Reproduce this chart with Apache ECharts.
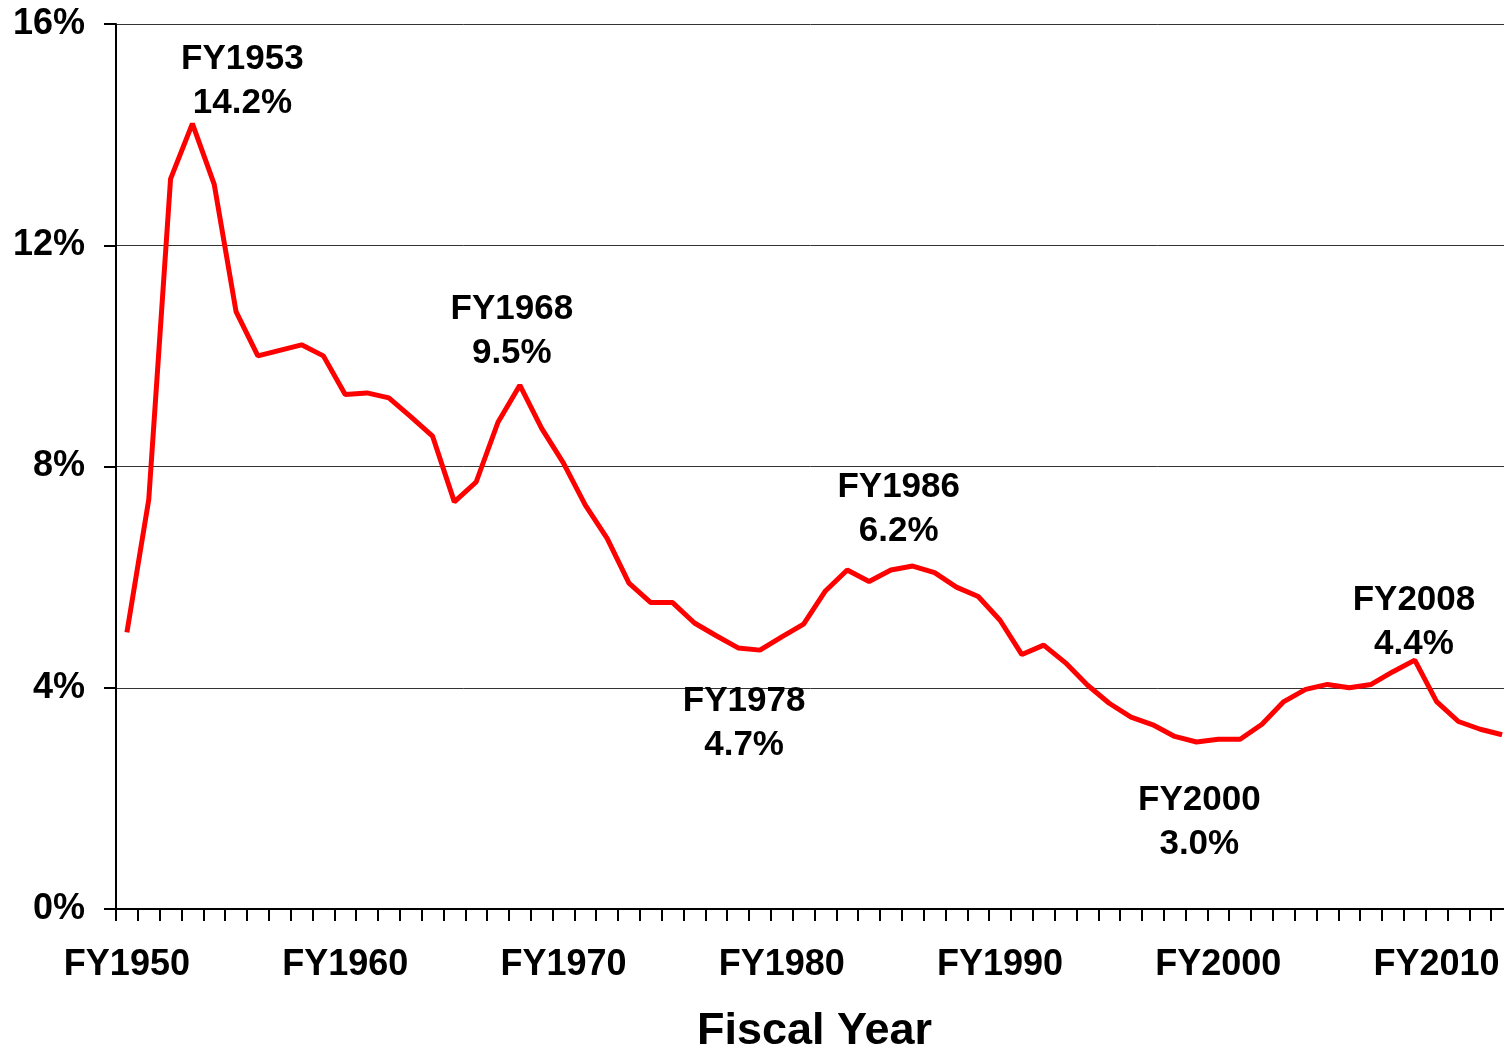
<!DOCTYPE html>
<html>
<head>
<meta charset="utf-8">
<script src="https://cdn.jsdelivr.net/npm/echarts@6/dist/echarts.min.js"></script>
<style>
  html, body { margin: 0; padding: 0; background: #fff; }
  #chart { width: 1504px; height: 1050px; }
</style>
</head>
<body>
<div id="chart"></div>
<script>
// fiscal years on the x axis
var years = [];
for (var y = 1950; y <= 2013; y++) years.push('FY' + y);

// share of GDP, percent
var shares = [
  5.0, 7.4, 13.2, 14.2, 13.1, 10.8, 10.0, 10.1, 10.2, 10.0,
  9.3, 9.33, 9.24, 8.9, 8.55, 7.36, 7.72, 8.8, 9.47, 8.69,
  8.06, 7.3, 6.7, 5.89, 5.54, 5.54, 5.17, 4.94, 4.72, 4.68,
  4.92, 5.15, 5.75, 6.13, 5.92, 6.13, 6.2, 6.08, 5.82, 5.65,
  5.22, 4.6, 4.77, 4.45, 4.05, 3.72, 3.47, 3.33, 3.12, 3.02,
  3.07, 3.07, 3.34, 3.75, 3.97, 4.06, 4.0, 4.06, 4.29, 4.5,
  3.75, 3.39, 3.25, 3.15
];

// highlighted years and their labels
var noteYears = ['FY1953', 'FY1968', 'FY1978', 'FY1986', 'FY2000', 'FY2008'];
var noteTexts = ['14.2%', '9.5%', '4.7%', '6.2%', '3.0%', '4.4%'];

// where each note sits relative to its point
var noteOffsets = [[50, -42], [-8, -54], [6, 75], [-14, -57], [-19, 83], [21, -49]];

var font = '"Liberation Sans", Arial, sans-serif';

var notes = noteYears.map(function (yr, i) {
  return {
    coord: [yr, shares[years.indexOf(yr)]],
    label: {
      formatter: yr + '\n' + noteTexts[i],
      offset: noteOffsets[i]
    }
  };
});

var option = {
  animation: false,
  grid: { left: 116, top: 24, width: 1397, bottom: 141, outerBoundsMode: 'none', containLabel: false },
  xAxis: {
    type: 'category',
    data: years,
    boundaryGap: true,
    name: 'Fiscal Year',
    nameLocation: 'middle',
    nameGap: 100,
    nameTextStyle: { fontFamily: font, fontWeight: 'bold', fontSize: 45, color: '#000' },
    axisLine: { lineStyle: { color: '#000', width: 2 } },
    axisTick: { show: true, interval: 0, length: 12, lineStyle: { color: '#000', width: 2 } },
    axisLabel: {
      interval: 9, margin: 38,
      fontFamily: font, fontWeight: 'bold', fontSize: 36, color: '#000'
    },
    splitLine: { show: false }
  },
  yAxis: {
    type: 'value',
    min: 0, max: 16, interval: 4,
    axisLine: { show: true, lineStyle: { color: '#000', width: 2 } },
    axisTick: { show: true, length: 12, lineStyle: { color: '#000', width: 2 } },
    axisLabel: {
      formatter: '{value}%', margin: 31,
      fontFamily: font, fontWeight: 'bold', fontSize: 36, color: '#000'
    },
    splitLine: { show: true, lineStyle: { color: '#333', width: 1 } }
  },
  series: [{
    type: 'line',
    data: shares,
    symbol: 'none',
    lineStyle: { color: '#ff0000', width: 5 },
    markPoint: {
      symbol: 'circle',
      symbolSize: 1,
      itemStyle: { color: 'rgba(0,0,0,0)' },
      label: {
        show: true, position: 'inside',
        fontFamily: font, fontWeight: 'bold', fontSize: 35, color: '#000',
        lineHeight: 44, align: 'center'
      },
      data: notes
    }
  }]
};

var chart = echarts.init(document.getElementById('chart'));
chart.setOption(option);
</script>
</body>
</html>
